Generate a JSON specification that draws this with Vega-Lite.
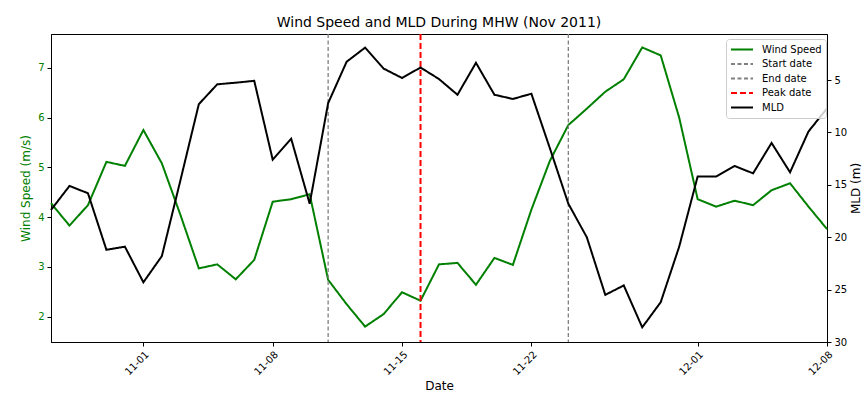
{
  "$schema": "https://vega.github.io/schema/vega-lite/v6.json",
  "width": 776,
  "height": 308,
  "autosize": {"type": "none"},
  "padding": {"left": 51, "top": 34, "right": 38, "bottom": 58},
  "background": "white",
  "title": {"text": "Wind Speed and MLD During MHW (Nov 2011)", "fontSize": 14, "font": "DejaVu Sans", "fontWeight": "normal", "color": "black", "offset": 3},
  "config": {
    "font": "DejaVu Sans",
    "view": {"stroke": "black", "strokeWidth": 1},
    "axis": {"grid": false, "domainColor": "black", "tickColor": "black", "tickSize": 4, "labelFontSize": 10, "labelColor": "black", "titleFontSize": 12, "titleFontWeight": "normal", "titleColor": "black", "labelPadding": 3}
  },
  "datasets": {
    "wind": [
      {"date": "2011-10-27", "ws": 4.28}, {"date": "2011-10-28", "ws": 3.83}, {"date": "2011-10-29", "ws": 4.24},
      {"date": "2011-10-30", "ws": 5.11}, {"date": "2011-10-31", "ws": 5.03}, {"date": "2011-11-01", "ws": 5.75},
      {"date": "2011-11-02", "ws": 5.08}, {"date": "2011-11-03", "ws": 4.05}, {"date": "2011-11-04", "ws": 2.97},
      {"date": "2011-11-05", "ws": 3.05}, {"date": "2011-11-06", "ws": 2.75}, {"date": "2011-11-07", "ws": 3.14},
      {"date": "2011-11-08", "ws": 4.31}, {"date": "2011-11-09", "ws": 4.36}, {"date": "2011-11-10", "ws": 4.46},
      {"date": "2011-11-11", "ws": 2.74}, {"date": "2011-11-12", "ws": 2.25}, {"date": "2011-11-13", "ws": 1.80},
      {"date": "2011-11-14", "ws": 2.05}, {"date": "2011-11-15", "ws": 2.49}, {"date": "2011-11-16", "ws": 2.32},
      {"date": "2011-11-17", "ws": 3.05}, {"date": "2011-11-18", "ws": 3.08}, {"date": "2011-11-19", "ws": 2.64},
      {"date": "2011-11-20", "ws": 3.18}, {"date": "2011-11-21", "ws": 3.04}, {"date": "2011-11-22", "ws": 4.15},
      {"date": "2011-11-23", "ws": 5.13}, {"date": "2011-11-24", "ws": 5.85}, {"date": "2011-11-25", "ws": 6.18},
      {"date": "2011-11-26", "ws": 6.52}, {"date": "2011-11-27", "ws": 6.77}, {"date": "2011-11-28", "ws": 7.41},
      {"date": "2011-11-29", "ws": 7.25}, {"date": "2011-11-30", "ws": 6.0}, {"date": "2011-12-01", "ws": 4.36},
      {"date": "2011-12-02", "ws": 4.21}, {"date": "2011-12-03", "ws": 4.33}, {"date": "2011-12-04", "ws": 4.24},
      {"date": "2011-12-05", "ws": 4.54}, {"date": "2011-12-06", "ws": 4.68}, {"date": "2011-12-07", "ws": 4.21},
      {"date": "2011-12-08", "ws": 3.76}
    ],
    "mld": [
      {"date": "2011-10-27", "mld": 17.4}, {"date": "2011-10-28", "mld": 15.1}, {"date": "2011-10-29", "mld": 15.8},
      {"date": "2011-10-30", "mld": 21.2}, {"date": "2011-10-31", "mld": 20.9}, {"date": "2011-11-01", "mld": 24.3},
      {"date": "2011-11-02", "mld": 21.8}, {"date": "2011-11-03", "mld": 14.6}, {"date": "2011-11-04", "mld": 7.3},
      {"date": "2011-11-05", "mld": 5.4}, {"date": "2011-11-06", "mld": 5.25}, {"date": "2011-11-07", "mld": 5.07},
      {"date": "2011-11-08", "mld": 12.6}, {"date": "2011-11-09", "mld": 10.6}, {"date": "2011-11-10", "mld": 16.8},
      {"date": "2011-11-11", "mld": 7.2}, {"date": "2011-11-12", "mld": 3.25}, {"date": "2011-11-13", "mld": 1.9},
      {"date": "2011-11-14", "mld": 3.9}, {"date": "2011-11-15", "mld": 4.8}, {"date": "2011-11-16", "mld": 3.8},
      {"date": "2011-11-17", "mld": 4.9}, {"date": "2011-11-18", "mld": 6.4}, {"date": "2011-11-19", "mld": 3.35},
      {"date": "2011-11-20", "mld": 6.4}, {"date": "2011-11-21", "mld": 6.8}, {"date": "2011-11-22", "mld": 6.3},
      {"date": "2011-11-23", "mld": 11.5}, {"date": "2011-11-24", "mld": 16.8}, {"date": "2011-11-25", "mld": 20.0},
      {"date": "2011-11-26", "mld": 25.5}, {"date": "2011-11-27", "mld": 24.6}, {"date": "2011-11-28", "mld": 28.6},
      {"date": "2011-11-29", "mld": 26.2}, {"date": "2011-11-30", "mld": 20.9}, {"date": "2011-12-01", "mld": 14.2},
      {"date": "2011-12-02", "mld": 14.2}, {"date": "2011-12-03", "mld": 13.2}, {"date": "2011-12-04", "mld": 13.9},
      {"date": "2011-12-05", "mld": 11.0}, {"date": "2011-12-06", "mld": 13.8}, {"date": "2011-12-07", "mld": 9.9},
      {"date": "2011-12-08", "mld": 7.7}
    ],
    "grayEvents": [
      {"date": "2011-11-11", "event": "Start date"},
      {"date": "2011-11-24", "event": "End date"}
    ],
    "peakEvent": [
      {"date": "2011-11-16", "event": "Peak date"}
    ]
  },
  "layer": [
    {
      "data": {"name": "wind"},
      "mark": {"type": "line", "strokeWidth": 2},
      "encoding": {
        "x": {"field": "date", "type": "temporal",
          "scale": {"type": "utc", "domain": [{"year": 2011, "month": 10, "date": 27, "utc": true}, {"year": 2011, "month": 12, "date": 8, "utc": true}]},
          "axis": {"title": "Date", "format": "%m-%d", "labelAngle": -45, "labelAlign": "right", "labelBaseline": "top", "titlePadding": 4,
            "values": [{"year": 2011, "month": 11, "date": 1, "utc": true}, {"year": 2011, "month": 11, "date": 8, "utc": true}, {"year": 2011, "month": 11, "date": 15, "utc": true}, {"year": 2011, "month": 11, "date": 22, "utc": true}, {"year": 2011, "month": 12, "date": 1, "utc": true}, {"year": 2011, "month": 12, "date": 8, "utc": true}]}},
        "y": {"field": "ws", "type": "quantitative", "scale": {"domain": [1.49, 7.68], "nice": false, "zero": false},
          "axis": {"orient": "left", "title": "Wind Speed (m/s)", "values": [2, 3, 4, 5, 6, 7], "labelColor": "green", "titleColor": "green", "titlePadding": 5}},
        "color": {"datum": "Wind Speed", "type": "nominal", "title": null,
          "scale": {"domain": ["Wind Speed", "Start date", "End date", "Peak date", "MLD"], "range": ["#008000", "#808080", "#808080", "#ff0000", "#000000"]},
          "legend": {"title": null, "orient": "none", "legendX": 675, "legendY": 5, "symbolType": "stroke", "symbolSize": 484, "symbolStrokeWidth": 2, "labelFontSize": 10, "labelColor": "black", "fillColor": "rgba(255,255,255,0.8)", "strokeColor": "#cccccc", "padding": 4, "cornerRadius": 3, "rowPadding": 1.5, "clipHeight": 13, "labelOffset": 8}},
        "strokeDash": {"datum": "Wind Speed", "type": "nominal", "title": null,
          "scale": {"domain": ["Wind Speed", "Start date", "End date", "Peak date", "MLD"], "range": [[1, 0], [4, 2.5], [4, 2.5], [6, 3], [1, 0]]},
          "legend": {"title": null, "orient": "none", "legendX": 675, "legendY": 5}}
      }
    },
    {
      "data": {"name": "grayEvents"},
      "mark": {"type": "rule", "strokeWidth": 1.3},
      "encoding": {
        "x": {"field": "date", "type": "temporal"},
        "color": {"field": "event", "type": "nominal", "title": null},
        "strokeDash": {"field": "event", "type": "nominal", "title": null}
      }
    },
    {
      "data": {"name": "peakEvent"},
      "mark": {"type": "rule", "strokeWidth": 2},
      "encoding": {
        "x": {"field": "date", "type": "temporal"},
        "color": {"field": "event", "type": "nominal", "title": null},
        "strokeDash": {"field": "event", "type": "nominal", "title": null}
      }
    },
    {
      "data": {"name": "mld"},
      "mark": {"type": "line", "strokeWidth": 2},
      "encoding": {
        "x": {"field": "date", "type": "temporal"},
        "y": {"field": "mld", "type": "quantitative", "scale": {"domain": [0.6, 30], "nice": false, "zero": false, "reverse": true},
          "axis": {"orient": "right", "title": "MLD (m)", "values": [5, 10, 15, 20, 25, 30], "titleAngle": 270, "titleBaseline": "top", "titlePadding": 4}},
        "color": {"datum": "MLD", "type": "nominal", "title": null},
        "strokeDash": {"datum": "MLD", "type": "nominal", "title": null}
      }
    }
  ],
  "resolve": {"scale": {"y": "independent"}}
}
